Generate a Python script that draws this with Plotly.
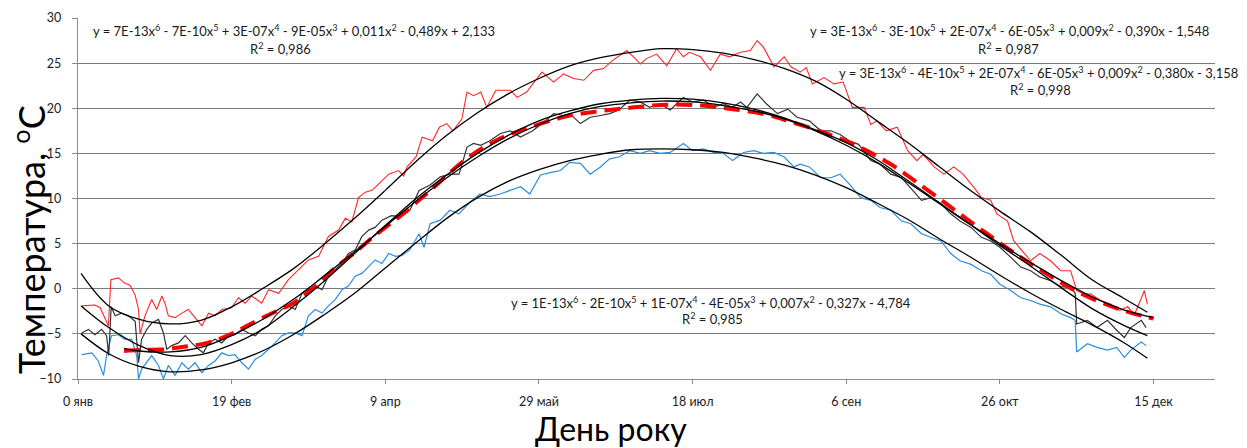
import plotly.graph_objects as go

# ---------------- data (day of year, °C) ----------------
red_days = [1.2, 5.5, 7.2, 9.9, 10.7, 13.1, 15.3, 16.9, 18.6, 19.7, 20.2, 21.8, 24, 25.6, 27.3, 28.3, 29.4, 31.6, 33.8, 35.9,
            38.1, 40.3, 42.5, 44.6, 46.8, 50, 52.2, 54.4, 56.6, 59.8, 62, 65.3, 68.5, 72.9, 75, 78.3, 81.5, 84.8, 87, 89.1,
            91.3, 93.5, 95.7, 97.8, 101.1, 104.3, 106, 107.1, 110, 112, 115.4, 117.6, 120, 122, 124.9, 126.6, 128.7, 131.1,
            133, 136, 140.7, 142.9, 146, 148, 151, 154.8, 158, 161.3, 164.6, 167.8, 171, 174, 178.6, 180.8, 183, 185, 188.3,
            191.6, 194.8, 197, 199, 202.6, 205.8, 209, 212, 215.6, 218.8, 221, 223, 226.5, 229.8, 232, 235, 237, 239, 242.8,
            246, 249, 252, 255.8, 258, 260, 263, 266.6, 270, 273, 275, 278.6, 281.8, 285, 288, 291.6, 294, 297, 299, 302.5,
            304.5, 308, 310, 313, 316.5, 319.8, 323, 325, 327.4, 329.6, 332.8, 336, 339, 341.6, 343.7, 345.5, 347, 348]
red_vals = [-1.9, -1.8, -2.1, -4.1, 1.0, 1.2, 0.6, 0.4, -0.7, -2.3, -5.0, -3.0, -1.2, -2.3, -0.8, -1.6, -3.0, -3.2, -2.7, -2.3,
            -3.2, -4.1, -2.7, -3.0, -2.3, -2.1, -1.0, -1.6, -0.8, -1.6, -0.1, -0.5, 1.0, 2.5, 3.2, 3.6, 5.8, 6.5, 7.8, 7.4,
            10.1, 10.7, 10.9, 11.6, 12.7, 13.1, 12.5, 13.5, 14.6, 16.8, 16.4, 17.9, 18.3, 17.5, 18.8, 21.8, 21.4, 21.8,
            20.1, 22.0, 22.0, 21.2, 21.8, 22.7, 24.0, 22.9, 23.8, 23.3, 23.1, 24.2, 24.4, 25.3, 26.4, 25.7, 24.9, 25.5, 26.0,
            24.7, 26.6, 25.7, 26.2, 25.7, 24.2, 26.0, 25.7, 26.2, 26.4, 27.5, 26.8, 24.6, 25.7, 24.6, 24.0, 24.5, 22.7, 23.4,
            22.7, 22.9, 20.1, 20.1, 18.2, 18.6, 17.5, 17.9, 15.3, 14.2, 14.9, 13.5, 12.7, 13.5, 12.7, 11.2, 10.1, 9.8, 8.3, 7.5,
            5.3, 3.9, 3.1, 3.9, 3.1, 2.0, 2.0, -0.2, -0.6, -0.6, -1.3, -1.7, -2.4, -2.0, -2.9, -1.5, -0.2, -1.7]

black_days = [1.2, 3.4, 5.5, 7.7, 9.3, 10.0, 10.8, 12.1, 14.2, 16.4, 18.6, 19.7, 20.7, 22.4, 24, 26.2, 27.8, 28.9, 30.5, 32.7,
              34.9, 37, 39.2, 40.8, 42.5, 44.6, 46.8, 49, 51.1, 53.3, 55.5, 57.7, 59.8, 62, 64.2, 66.3, 68.5, 70.7, 72.9, 75,
              77.2, 79.4, 81.5, 83.7, 85.9, 88, 90.2, 92.4, 94.6, 96.7, 98.9, 102, 104.9, 108, 111, 114.6, 117.9, 121, 124,
              126.6, 128.7, 131.1, 134, 137.5, 140.7, 144, 148, 151, 154.8, 158, 160, 163.5, 166.7, 170, 173, 176, 179.6, 183,
              186, 189.4, 192.7, 197, 200, 203.6, 206.8, 210, 213, 215.6, 217.7, 221, 224, 227.6, 231, 234, 238, 241.7, 245,
              248, 251, 254, 258, 261, 264.5, 268, 271, 274.5, 277.5, 280.8, 284, 287, 290.6, 294, 297, 300, 303.5, 306.8,
              310, 313, 316.5, 320, 323, 324.5, 325, 328.5, 331.6, 335, 338, 340.5, 342.6, 346, 347.6]
black_vals = [-4.9, -4.5, -5.1, -4.5, -5.2, -7.4, -2.0, -3.0, -2.7, -3.0, -3.6, -8.2, -5.6, -4.5, -3.8, -3.4, -4.9, -6.7, -6.3, -6.0,
              -5.2, -6.0, -6.7, -7.1, -6.0, -5.6, -6.0, -5.2, -5.1, -4.5, -4.9, -5.2, -4.5, -4.1, -3.0, -2.3, -1.9, -2.3, -0.5, -0.1,
              0.3, -0.1, 1.4, 2.1, 2.8, 3.9, 4.3, 5.8, 6.5, 6.8, 7.6, 8.1, 8.0, 8.7, 10.9, 11.5, 12.4, 12.7, 12.7,
              15.7, 16.1, 15.9, 16.4, 17.2, 17.5, 16.8, 17.5, 18.3, 19.4, 19.2, 19.4, 18.3, 19.0, 19.2, 19.4, 19.8, 20.9, 20.7,
              20.1, 20.5, 19.8, 21.2, 20.7, 20.9, 20.1, 20.5, 20.1, 20.7, 20.1, 21.6, 20.5, 19.4, 19.9, 19.0, 18.6, 17.5, 17.5,
              17.1, 16.4, 16.0, 14.2, 13.8, 12.7, 12.3, 11.2, 9.8, 10.1, 9.4, 8.3, 7.5, 6.8, 5.7, 5.3, 4.6, 3.5, 2.4,
              2.0, 1.3, 0.9, 0.2, 0.2, -0.5, -3.9, -3.5, -4.3, -3.5, -4.6, -5.4, -4.3, -3.5, -4.3]

blue_days = [1.2, 4.5, 6.6, 8.3, 9.3, 10.9, 13.1, 15.3, 17.5, 19.1, 19.7, 20.7, 24, 26.2, 27.8, 29.4, 31.6, 33.8, 35.9, 38.1,
             40.3, 42.5, 44.6, 46.8, 49, 51.1, 53.3, 55.5, 57.7, 59.8, 62, 64.2, 66.3, 68.5, 70.7, 72.9, 75, 77.2, 79.4, 81.5,
             83.7, 85.9, 88, 90.2, 92.4, 94.6, 96.7, 98.9, 101.1, 103.3, 105.4, 108, 111, 112.6, 114.6, 117.9, 121, 124,
             127.6, 130.8, 134, 137.4, 140.7, 144, 147, 150.5, 154, 157, 160, 163.5, 166.7, 170, 173, 176, 179.6, 183, 186,
             189.4, 192.7, 197, 200, 203.6, 206.8, 210, 213, 216.6, 219.9, 223, 226.5, 229.8, 233, 235, 238, 241.7, 245, 248,
             251, 254.7, 258, 261, 264.5, 268, 271, 274.5, 277.5, 280.8, 284, 287, 290.6, 294, 297, 300, 303.5, 306.8, 310,
             313, 316.5, 320, 323, 324.5, 325, 328.5, 331.6, 335, 338, 340.5, 342.6, 346, 347.6]
blue_vals = [-7.3, -7.1, -8.0, -9.6, -7.4, -5.2, -5.1, -5.6, -5.6, -7.4, -10.0, -8.9, -7.4, -8.5, -10.0, -8.5, -9.6, -8.2, -8.9, -8.2,
             -9.3, -8.5, -8.0, -7.1, -7.4, -7.3, -8.2, -8.9, -7.8, -7.4, -6.7, -6.0, -5.2, -4.9, -4.9, -5.2, -3.0, -2.3, -2.7, -1.9,
             -1.2, -0.1, 0.3, 1.4, 1.7, 2.5, 3.2, 2.8, 3.9, 3.6, 3.7, 4.3, 6.1, 4.6, 7.2, 7.6, 8.7, 8.3,
             9.6, 10.5, 10.2, 10.5, 10.9, 11.3, 10.5, 12.6, 12.9, 13.1, 14.0, 13.9, 12.7, 13.5, 14.4, 14.6, 15.3, 15.0, 15.3,
             15.0, 15.1, 16.1, 15.3, 15.5, 15.1, 15.0, 14.2, 15.1, 15.3, 15.0, 15.1, 14.6, 13.5, 13.8, 13.5, 12.3, 12.3, 12.7,
             11.6, 10.1, 9.8, 9.0, 8.7, 7.5, 7.2, 6.1, 5.7, 5.3, 3.9, 3.1, 2.7, 2.0, 1.6, 0.5, -0.2, -1.0, -1.3,
             -1.7, -2.0, -2.8, -3.2, -3.5, -7.0, -6.1, -6.5, -6.8, -6.5, -7.6, -6.8, -5.9, -6.3]

norm_days = [15, 20, 28, 35, 42, 50, 55, 62, 70, 77, 83, 90, 97, 105, 115, 126, 137, 148, 159, 170, 181, 192, 203, 213, 224,
             231, 242, 253, 264, 275, 285, 295, 305, 315, 325, 335, 343, 350]
norm_vals = [-6.9, -6.8, -6.7, -6.4, -6.0, -5.0, -4.1, -2.9, -1.6, 0.2, 2.1, 4.0, 6.0, 8.1, 11.0, 14.3, 16.6, 18.0, 19.1, 19.7,
             20.1, 20.4, 20.3, 19.9, 19.3, 18.6, 17.4, 15.9, 13.9, 11.3, 8.8, 6.3, 3.9, 1.7, -0.3, -1.8, -2.7, -3.3]

trend_days = [1, 10, 20, 30, 40, 50, 60, 70, 80, 90, 100, 110, 120, 130, 140, 150, 160, 170, 180, 190, 200, 210, 220, 230,
              240, 250, 260, 270, 280, 290, 300, 310, 320, 330, 340, 348]
trend_max = [1.7, -1.9, -3.4, -3.9, -3.5, -2.0, 0.0, 2.2, 4.9, 7.8, 10.9, 14.1, 17.0, 19.5, 21.6, 23.3, 24.7, 25.6, 26.2, 26.6,
             26.5, 26.1, 25.4, 24.4, 23.0, 21.0, 18.6, 16.2, 13.6, 11.0, 8.6, 6.3, 3.7, 1.0, -1.0, -2.6]
trend_mean = [-1.9, -4.3, -6.3, -7.4, -7.3, -6.2, -4.5, -2.0, 0.8, 3.9, 7.0, 10.0, 12.6, 15.0, 17.0, 18.6, 19.7, 20.5, 20.9, 21.1,
              21.0, 20.6, 19.9, 18.9, 17.6, 16.2, 14.3, 12.0, 9.6, 7.2, 4.8, 2.5, 0.1, -2.2, -4.0, -5.2]
trend_min = [-5.0, -7.2, -8.6, -9.2, -9.0, -8.2, -6.9, -5.1, -2.9, -0.5, 2.3, 5.1, 7.8, 10.1, 11.9, 13.2, 14.2, 14.9, 15.4, 15.5,
             15.4, 15.1, 14.5, 13.7, 12.6, 11.2, 9.5, 7.7, 5.6, 3.6, 1.5, -0.5, -2.3, -4.0, -5.9, -7.7]
trend_norm_days = [15, 20, 30, 40, 50, 60, 70, 80, 90, 100, 110, 120, 130, 140, 150, 160, 170, 180, 190, 200, 210, 220, 230,
                   240, 250, 260, 270, 280, 290, 300, 310, 320, 330, 340, 350]
trend_norm = [-6.6, -6.9, -7.0, -6.5, -5.2, -3.4, -1.2, 1.4, 4.1, 6.9, 9.7, 12.3, 14.6, 16.6, 18.2, 19.4, 20.2, 20.6, 20.8, 20.7,
              20.3, 19.7, 18.8, 17.5, 15.9, 14.0, 11.8, 9.5, 7.2, 5.0, 2.9, 0.9, -0.9, -2.3, -3.2]

tick_vals = [0, 50, 100, 150, 200, 250, 300, 350]
tick_text = ["0 янв", "19 фев", "9 апр", "29 май", "18 июл", "6 сен", "26 окт", "15 дек"]

eq_texts = [
    "y = 7E-13x<sup>6</sup> - 7E-10x<sup>5</sup> + 3E-07x<sup>4</sup> - 9E-05x<sup>3</sup> + 0,011x<sup>2</sup> - 0,489x + 2,133",
    "y = 3E-13x<sup>6</sup> - 3E-10x<sup>5</sup> + 2E-07x<sup>4</sup> - 6E-05x<sup>3</sup> + 0,009x<sup>2</sup> - 0,390x - 1,548",
    "y = 3E-13x<sup>6</sup> - 4E-10x<sup>5</sup> + 2E-07x<sup>4</sup> - 6E-05x<sup>3</sup> + 0,009x<sup>2</sup> - 0,380x - 3,158",
    "y = 1E-13x<sup>6</sup> - 2E-10x<sup>5</sup> + 1E-07x<sup>4</sup> - 4E-05x<sup>3</sup> + 0,007x<sup>2</sup> - 0,327x - 4,784",
]
r2_texts = ["R<sup>2</sup> = 0,986", "R<sup>2</sup> = 0,987", "R<sup>2</sup> = 0,998", "R<sup>2</sup> = 0,985"]

# ---------------- figure ----------------
FONT = "Lato, 'Open Sans', sans-serif"
fig = go.Figure()

fig.add_trace(go.Scatter(x=blue_days, y=blue_vals, mode="lines", line=dict(color="#2b8de0", width=1.2), showlegend=False))
fig.add_trace(go.Scatter(x=black_days, y=black_vals, mode="lines", line=dict(color="#333333", width=1.2), showlegend=False))
fig.add_trace(go.Scatter(x=red_days, y=red_vals, mode="lines", line=dict(color="#ff2626", width=1.1), showlegend=False))
fig.add_trace(go.Scatter(x=norm_days, y=norm_vals, mode="lines", line=dict(color="#ff0000", width=4, dash="16px,8px", shape="spline"),
                         showlegend=False))
for tv in (trend_max, trend_mean, trend_min):
    fig.add_trace(go.Scatter(x=trend_days, y=tv, mode="lines", line=dict(color="#000000", width=1.3, shape="spline"),
                             showlegend=False))
fig.add_trace(go.Scatter(x=trend_norm_days, y=trend_norm, mode="lines", line=dict(color="#000000", width=1.3, shape="spline"),
                         showlegend=False))

L, R, T, B = 78, 32, 18, 69
PW, PH = 1247 - L - R, 448 - T - B


def px(x):
    return (x - L) / PW


def py(y):
    return (448 - B - y) / PH


eq_pos = [(294, 31), (1009, 31), (1038, 72), (711, 302)]
r2_pos = [(280, 49), (1008, 49), (1040, 89), (712, 318)]
for t, (x, y) in zip(eq_texts, eq_pos):
    fig.add_annotation(text=t, x=px(x), y=py(y), xref="paper", yref="paper", showarrow=False,
                       xanchor="center", yanchor="middle", font=dict(family=FONT, size=13, color="#1a1a1a"))
for t, (x, y) in zip(r2_texts, r2_pos):
    fig.add_annotation(text=t, x=px(x), y=py(y), xref="paper", yref="paper", showarrow=False,
                       xanchor="center", yanchor="middle", font=dict(family=FONT, size=13, color="#1a1a1a"))

fig.add_annotation(text="Температура, <sup>о</sup>С", x=px(29), y=py(240), xref="paper", yref="paper", showarrow=False,
                   textangle=-90, xanchor="center", yanchor="middle", font=dict(family=FONT, size=36, color="#000"))
fig.add_annotation(text="День року", x=px(611), y=py(428), xref="paper", yref="paper", showarrow=False,
                   xanchor="center", yanchor="middle", font=dict(family=FONT, size=32, color="#000"))

fig.update_layout(
    width=1247, height=448,
    margin=dict(l=L, r=R, t=T, b=B, autoexpand=False),
    paper_bgcolor="white", plot_bgcolor="white",
    font=dict(family=FONT),
    xaxis=dict(range=[0, 370], tickvals=tick_vals, ticktext=tick_text, showgrid=False, zeroline=False,
               showline=True, linecolor="#8c8c8c", linewidth=1.3, ticks="outside", ticklen=4, tickcolor="#8c8c8c",
               ticklabelstandoff=7, tickfont=dict(family=FONT, size=12.5, color="#222")),
    yaxis=dict(range=[-10, 30], dtick=5, showgrid=True, gridcolor="#7a7a7a", gridwidth=1, zeroline=False,
               showline=True, linecolor="#8c8c8c", linewidth=1.3, ticks="outside", ticklen=5, tickcolor="#8c8c8c",
               ticklabelstandoff=8, tickfont=dict(family=FONT, size=12.5, color="#222")),
)

fig.write_html("out.html", config={"displayModeBar": False},
               post_script="document.body.style.margin='0';document.body.style.overflow='hidden';")
